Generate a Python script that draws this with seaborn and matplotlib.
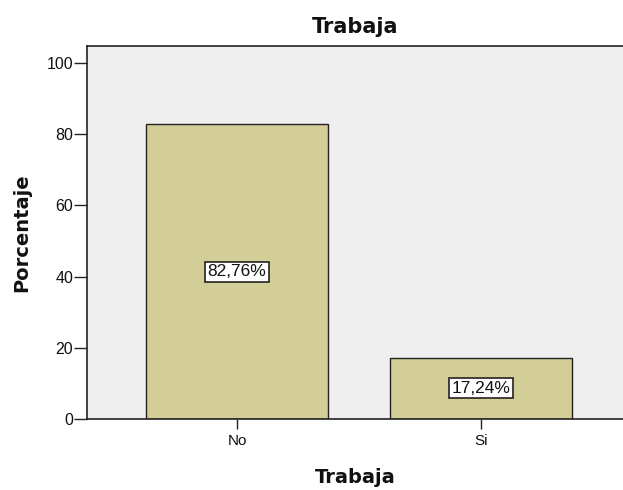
import matplotlib
matplotlib.use("Agg")
import matplotlib.pyplot as plt
import seaborn as sns
import pandas as pd

categories = ["No", "Si"]
percentages = [82.76, 17.24]
value_labels = ["82,76%", "17,24%"]

sns.set_theme(style="white")
plt.rcParams["font.family"] = ["Liberation Sans", "DejaVu Sans"]

df = pd.DataFrame({"Trabaja": categories, "Porcentaje": percentages})

fig = plt.figure(figsize=(6.23, 4.90), dpi=100)
ax = fig.add_axes([0.1396, 0.1449, 0.8604, 0.7622])
ax.set_facecolor("#EFEFEF")

sns.barplot(data=df, x="Trabaja", y="Porcentaje", ax=ax, color="#D3CE97",
            saturation=1, width=0.746, edgecolor="#222222", linewidth=1.0)

for i, (v, lab) in enumerate(zip(percentages, value_labels)):
    ax.text(i, v / 2, lab, ha="center", va="center", fontsize=12.5,
            color="#111111",
            bbox=dict(boxstyle="square,pad=0.15", facecolor="white",
                      edgecolor="#222222", linewidth=1.2))

ax.set_xlim(-0.615, 1.582)
ax.set_ylim(0, 104.9)
ax.set_yticks([0, 20, 40, 60, 80, 100])
ax.tick_params(axis="y", direction="out", length=9.5, width=1.0,
               color="#222222", labelsize=11.5, labelcolor="#111111",
               left=True, pad=0.5)
ax.tick_params(axis="x", direction="out", length=7.5, width=1.0,
               color="#222222", labelsize=11, labelcolor="#111111",
               bottom=True, pad=3)

for side in ["left", "bottom", "top"]:
    ax.spines[side].set_color("#222222")
    ax.spines[side].set_linewidth(1.2)
ax.spines["right"].set_visible(False)

label_font = dict(family="DejaVu Sans", fontweight="bold", color="#111111")
ax.set_title("Trabaja", fontsize=15, pad=9, **label_font)
ax.set_xlabel("Trabaja", fontsize=14, labelpad=15, **label_font)
ax.set_ylabel("Porcentaje", fontsize=14, labelpad=11, **label_font)

fig.savefig("out.png", dpi=100)
